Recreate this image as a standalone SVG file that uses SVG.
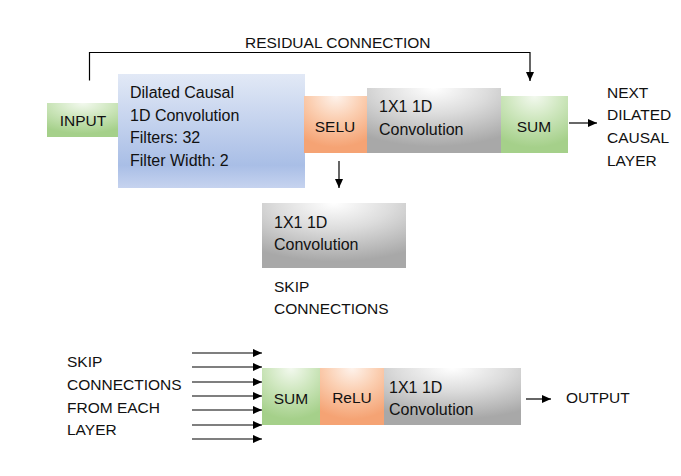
<svg xmlns="http://www.w3.org/2000/svg" width="681" height="476" viewBox="0 0 681 476">
<defs>
<radialGradient id="gGreen" cx="0.5" cy="0" r="0.9" fx="0.5" fy="0">
<stop offset="0" stop-color="#f3f9ef"/>
<stop offset="0.45" stop-color="#cfe7bf"/>
<stop offset="1" stop-color="#a5d08a"/>
</radialGradient>
<radialGradient id="gOrange" cx="0.5" cy="0" r="0.9" fx="0.5" fy="0">
<stop offset="0" stop-color="#fef3ec"/>
<stop offset="0.45" stop-color="#fbcfb2"/>
<stop offset="1" stop-color="#f5a374"/>
</radialGradient>
<radialGradient id="gGray" cx="0.5" cy="0" r="0.9" fx="0.5" fy="0">
<stop offset="0" stop-color="#ffffff"/>
<stop offset="0.45" stop-color="#dcdcdc"/>
<stop offset="1" stop-color="#a8a8a8"/>
</radialGradient>
<linearGradient id="gBlue" x1="0" y1="0" x2="0" y2="1">
<stop offset="0" stop-color="#e2e9f6"/>
<stop offset="0.8" stop-color="#a9bee6"/>
<stop offset="1" stop-color="#c6d3ef"/>
</linearGradient>
<marker id="ah" markerUnits="userSpaceOnUse" markerWidth="9" markerHeight="8" refX="9" refY="4" orient="auto">
<path d="M0,0 L9,4 L0,8 z" fill="#000"/>
</marker>
</defs>
<style>
text{font-family:"Liberation Sans",Arial,sans-serif;font-size:16px;fill:#111;}
.c{text-anchor:middle;}
.cap{font-size:15.5px;}
.ln{stroke:#000;stroke-width:1.2;fill:none;}
.ar{stroke:#000;stroke-width:1.2;fill:none;marker-end:url(#ah);}
</style>
<rect width="681" height="476" fill="#fff"/>
<g id="connectors">
<polyline class="ar" points="89.5,80.5 89.5,52.5 530,52.5 530,81"/>
<line class="ar" x1="339" y1="161" x2="339" y2="188"/>
<line class="ar" x1="569" y1="123" x2="597" y2="123"/>
<line class="ar" x1="192" y1="353" x2="262" y2="353"/>
<line class="ar" x1="192" y1="367" x2="262" y2="367"/>
<line class="ar" x1="192" y1="382" x2="262" y2="382"/>
<line class="ar" x1="192" y1="396" x2="262" y2="396"/>
<line class="ar" x1="192" y1="410" x2="262" y2="410"/>
<line class="ar" x1="192" y1="425" x2="262" y2="425"/>
<line class="ar" x1="192" y1="439" x2="262" y2="439"/>
<line class="ar" x1="526" y1="399" x2="551" y2="399"/>
</g>
<g id="residual-label"><text class="cap" x="245" y="48.3">RESIDUAL CONNECTION</text></g>
<g id="input">
<rect x="47" y="103" width="72" height="34" fill="url(#gGreen)"/>
<text class="cap c" x="83" y="126">INPUT</text>
</g>
<g id="dilated-conv">
<rect x="118" y="74" width="187" height="114" fill="url(#gBlue)"/>
<text x="130" y="97.5">Dilated Causal</text>
<text x="130" y="120.5">1D Convolution</text>
<text x="130" y="143.3">Filters: 32</text>
<text x="130" y="166">Filter Width: 2</text>
</g>
<g id="selu">
<rect x="304" y="96" width="64" height="57" fill="url(#gOrange)"/>
<text class="cap c" x="335" y="131.7">SELU</text>
</g>
<g id="conv1x1-res">
<rect x="367" y="88" width="134" height="65" fill="url(#gGray)"/>
<text x="379" y="112.3">1X1 1D</text>
<text x="379" y="135">Convolution</text>
</g>
<g id="sum-res">
<rect x="501" y="96" width="67" height="57" fill="url(#gGreen)"/>
<text class="cap c" x="534" y="131.7">SUM</text>
</g>
<g id="next-layer">
<text class="cap" x="607" y="97.7">NEXT</text>
<text class="cap" x="607" y="120">DILATED</text>
<text class="cap" x="607" y="143.3">CAUSAL</text>
<text class="cap" x="607" y="166">LAYER</text>
</g>
<g id="conv1x1-skip">
<rect x="262" y="203" width="144" height="65" fill="url(#gGray)"/>
<text x="274" y="227.5">1X1 1D</text>
<text x="274" y="250">Convolution</text>
</g>
<g id="skip-label">
<text class="cap" x="274" y="291.7">SKIP</text>
<text class="cap" x="274" y="314">CONNECTIONS</text>
</g>
<g id="skip-inputs">
<text class="cap" x="67" y="367">SKIP</text>
<text class="cap" x="67" y="390">CONNECTIONS</text>
<text class="cap" x="67" y="412.7">FROM EACH</text>
<text class="cap" x="67" y="435">LAYER</text>
</g>
<g id="sum-out">
<rect x="262" y="368" width="58" height="57" fill="url(#gGreen)"/>
<text class="cap c" x="291" y="403.5">SUM</text>
</g>
<g id="relu">
<rect x="320" y="368" width="64" height="57" fill="url(#gOrange)"/>
<text class="cap c" x="352" y="403">ReLU</text>
</g>
<g id="conv1x1-out">
<rect x="384" y="368" width="137" height="57" fill="url(#gGray)"/>
<text x="389" y="392.7">1X1 1D</text>
<text x="389" y="415">Convolution</text>
</g>
<g id="output">
<text class="cap" x="566" y="402.7">OUTPUT</text>
</g>
</svg>
